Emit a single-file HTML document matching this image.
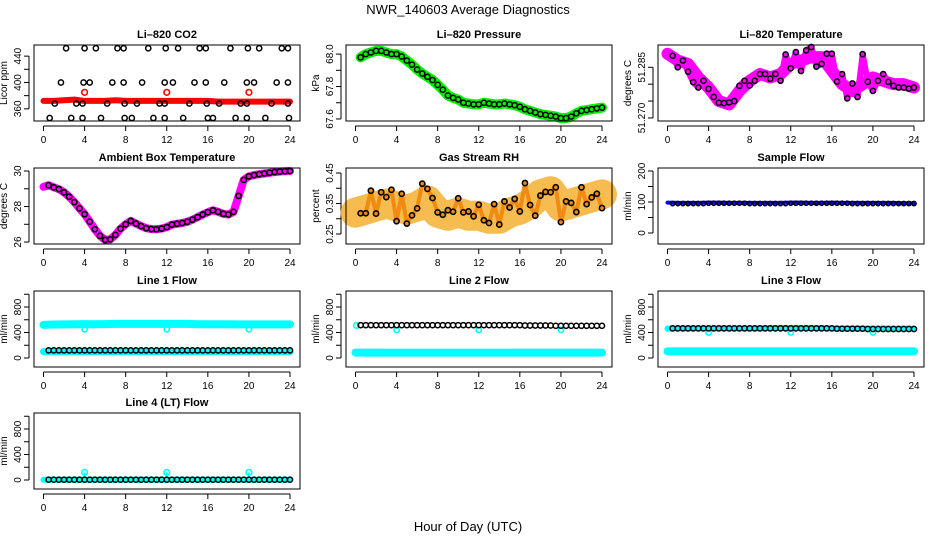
<!DOCTYPE html>
<html><head><meta charset="utf-8"><title>NWR_140603 Average Diagnostics</title>
<style>
html,body{margin:0;padding:0;background:#fff;}
svg{display:block;font-family:"Liberation Sans",Arial,sans-serif;}
</style></head>
<body>
<svg id="chart" width="936" height="540" viewBox="0 0 936 540" xmlns="http://www.w3.org/2000/svg">
<text x="468" y="14" text-anchor="middle" font-size="13">NWR_140603  Average Diagnostics</text>
<text x="468" y="531" text-anchor="middle" font-size="13">Hour of Day (UTC)</text>
</svg>
<script>
const hours = [0.5,1,1.5,2,2.5,3,3.5,4,4.5,5,5.5,6,6.5,7,7.5,8,8.5,9,9.5,10,10.5,11,11.5,12,12.5,13,13.5,14,14.5,15,15.5,16,16.5,17,17.5,18,18.5,19,19.5,20,20.5,21,21.5,22,22.5,23,23.5,24];
const hourly = [0,1,2,3,4,5,6,7,8,9,10,11,12,13,14,15,16,17,18,19,20,21,22,23,24];
const xTicks = [0,4,8,12,16,20,24];

// CO2
const co2TopHours = [2.2,4.0,5.1,7.2,7.8,10.2,11.9,13.1,15.2,15.8,18.2,19.9,21.0,23.2,23.8];
const co2HighHours = [1.7,3.9,4.5,6.7,7.8,9.6,11.8,12.6,14.7,15.8,17.6,19.8,20.5,22.7,23.8];
const co2MidHours = [1.1,3.2,3.8,6.2,7.9,9.1,11.3,11.8,14.2,15.9,17.1,19.2,19.8,22.2,23.8];
const co2LowHours = [0.6,2.7,3.8,5.6,7.9,8.6,10.7,11.8,13.6,16.0,16.5,18.7,19.8,21.6,23.9];
const co2Levels = [452,400,368,346];
const co2Red = [372,372,373,374,372,372,372,373,372,372,372,372,372,372,372,372,372,371,371,371,371,371,371,371,371];
const co2RedSpikeHours = [4,12,20];
const co2RedSpikeVals = [385,385,385];

const pressure = [67.98,68.0,68.01,68.02,68.02,68.01,68.0,68.0,67.985,67.96,67.935,67.905,67.88,67.86,67.84,67.81,67.78,67.745,67.73,67.72,67.70,67.695,67.69,67.69,67.70,67.695,67.69,67.69,67.695,67.69,67.685,67.675,67.66,67.65,67.64,67.63,67.625,67.62,67.615,67.605,67.605,67.615,67.635,67.65,67.655,67.66,67.665,67.67];

const liTemp = [51.2884,51.285,51.287,51.2837,51.2806,51.279,51.281,51.2786,51.2762,51.2745,51.2744,51.2746,51.275,51.2795,51.281,51.2796,51.281,51.283,51.283,51.2816,51.283,51.281,51.2888,51.2847,51.2895,51.2839,51.29,51.291,51.2852,51.286,51.289,51.289,51.2808,51.283,51.2758,51.2802,51.2762,51.2889,51.2807,51.278,51.281,51.283,51.2807,51.2795,51.279,51.279,51.2787,51.279];
const liTempBand = [51.289,51.287,51.286,51.282,51.279,51.275,51.274,51.278,51.281,51.283,51.282,51.283,51.286,51.287,51.288,51.288,51.284,51.280,51.278,51.280,51.282,51.281,51.280,51.280,51.279];

const ambient = [29.2,29.08,28.98,28.8,28.55,28.25,27.9,27.57,27.15,26.72,26.35,26.12,26.15,26.4,26.75,27.0,27.19,27.04,26.9,26.78,26.73,26.72,26.76,26.84,26.98,27.03,27.07,27.14,27.26,27.4,27.55,27.68,27.79,27.7,27.59,27.55,27.7,28.6,29.5,29.7,29.77,29.82,29.86,29.9,29.94,29.97,29.99,30.0];
const ambientStart = [29.11];

const rh = [0.318,0.318,0.392,0.317,0.387,0.371,0.395,0.292,0.382,0.284,0.311,0.334,0.415,0.398,0.368,0.321,0.313,0.328,0.323,0.367,0.321,0.324,0.308,0.346,0.295,0.286,0.348,0.281,0.357,0.337,0.365,0.324,0.417,0.345,0.31,0.376,0.388,0.387,0.403,0.289,0.357,0.352,0.322,0.403,0.348,0.37,0.382,0.335];
const rhBand = [0.32,0.33,0.34,0.35,0.34,0.33,0.34,0.36,0.32,0.31,0.32,0.31,0.31,0.30,0.30,0.32,0.33,0.35,0.38,0.39,0.34,0.35,0.36,0.37,0.38];

const sampleFlow = [95,95,95,95,95,95,95,96,96,96,96,96,96,96,96,95,95,95,95,95,95,95,95,96,96,96,96,96,96,96,96,96,96,96,96,95,95,95,95,95,95,95,95,95,95,95,95,95];
const sampleBand = [98,97,97,97,98,98,97,97,97,97,97,97,98,98,97,97,98,97,97,97,97,97,97,96,96];

const line1Black = [120,120,120,120,120,120,120,120,120,120,120,120,120,120,120,120,120,120,120,120,120,120,120,120,120,120,120,120,120,120,120,120,120,120,120,120,120,120,120,120,120,120,120,120,120,120,120,120];
const line1Upper = [520,525,528,530,532,530,532,535,535,535,535,535,535,535,535,530,530,530,530,528,528,528,528,528,528];
const line1Lower = [100];
const line1DipVals = [450,450,450];
const line2Black = [515,515,515,515,515,515,515,515,515,515,515,515,515,515,515,515,515,515,515,515,515,515,515,515,515,515,515,515,515,515,515,515,510,510,510,510,510,510,505,505,505,505,505,505,505,505,505,505];
const line2Upper = [510];
const line2Lower = [85,85,85,85,85,85,85,85,85,85,85,85,85,85,85,85,85,85,85,85,85,85,85,85,85];
const line2DipVals = [440,440,440];
const line3Black = [465,465,465,465,465,465,465,465,465,465,465,465,465,465,465,465,465,465,465,465,465,465,465,465,465,465,465,465,465,465,465,465,460,460,460,460,460,460,455,455,455,455,455,455,455,455,455,455];
const line3Upper = [460,465,465,465,465,465,465,465,465,465,470,470,470,470,470,470,460,460,460,460,460,460,460,460,460];
const line3Lower = [105,105,105,105,105,105,105,105,105,105,105,105,105,105,105,105,105,105,105,105,105,105,105,105,105];
const line3DipVals = [400,400,400];
const line4Black = [5,5,5,5,5,5,5,5,5,5,5,5,5,5,5,5,5,5,5,5,5,5,5,5,5,5,5,5,5,5,5,5,5,5,5,5,5,5,5,5,5,5,5,5,5,5,5,5];
const line4Cyan = [5,5,5,5,5,5,5,5,5,5,5,5,5,5,5,5,5,5,5,5,5,5,5,5,5];
const line4SpikeVals = [120,120,120];
const spikeHours = [4,12,20];

const NS = 'http://www.w3.org/2000/svg';
const svg = document.getElementById('chart');
function mk(tag, attrs, parent){
  const e = document.createElementNS(NS, tag);
  for (const k in attrs) e.setAttribute(k, attrs[k]);
  (parent||svg).appendChild(e);
  return e;
}
const colL = [34,346,658], rowT = [45,168,291,413], W = 266, H = 76;

function panel(c, r, name, title, ylab, ymin, ymax, ticks, labels){
  const L = colL[c], T = rowT[r];
  const g = mk('g', {});
  
  
  const xs = h => L + 9.5 + h * (246.5/24);
  const ys = v => T + H - (v - ymin) / (ymax - ymin) * H;
  const t = mk('text', {x: L + W/2, y: T - 7, 'text-anchor':'middle', 'font-size':'11', 'font-weight':'bold'}, g);
  t.textContent = title;
  
  
  const yl = mk('text', {x: L - 27, y: T + H/2, 'text-anchor':'middle', 'font-size':'10', transform:`rotate(-90 ${L-27} ${T+H/2})`}, g);
  yl.textContent = ylab;
  
  
  const xa = mk('g', {}, g);
  
  
  mk('line', {x1: xs(0), x2: xs(24), y1: T+H+5, y2: T+H+5, stroke:'#000'}, xa);
  xTicks.forEach(v => {
    mk('line', {x1: xs(v), x2: xs(v), y1: T+H+5, y2: T+H+10, stroke:'#000'}, xa);
    const tl = mk('text', {x: xs(v), y: T+H+22, 'text-anchor':'middle', 'font-size':'10'}, xa);
    tl.textContent = v;
  });
  const ya = mk('g', {}, g);
  
  
  mk('line', {x1: L-5, x2: L-5, y1: ys(ticks[0]), y2: ys(ticks[ticks.length-1]), stroke:'#000'}, ya);
  ticks.forEach((v, i) => {
    mk('line', {x1: L-10, x2: L-5, y1: ys(v), y2: ys(v), stroke:'#000'}, ya);
    if (labels[i] !== '') {
      const yy = ys(v);
      const tl = mk('text', {x: L-13, y: yy, 'text-anchor':'middle', 'font-size':'10', transform:`rotate(-90 ${L-13} ${yy})`}, ya);
      tl.textContent = labels[i];
    }
  });
  const plot = mk('g', {}, g);
  
  
  const box = mk('rect', {x: L, y: T, width: W, height: H, fill:'none', stroke:'#000'}, g);
  
  
  return {xs, ys, plot, name};
}
function band(p, hs, vals, color, width, op){
  const pts = vals.map((v,i) => p.xs(hs[i]) + ',' + p.ys(v)).join(' ');
  const pl = mk('polyline', {points: pts, fill:'none', stroke: color, 'stroke-width': width, 'stroke-linejoin':'round', 'stroke-linecap':'round', 'stroke-opacity': op||1}, p.plot);
  
  
}
function pts(p, hs, vals, color, r, sw){
  vals.forEach((v,i) => {
    const c = mk('circle', {cx: p.xs(hs[i]), cy: p.ys(v), r: r||3, fill:'none', stroke: color, 'stroke-width': sw||1.6}, p.plot);
    
    
  });
}

let p = panel(0,0,'co2','Li\u2013820 CO2','Licor ppm',341.5,456.9,[360,380,400,420,440],['360','','400','','440']);
band(p, hourly, co2Red, '#ff0000', 6);
pts(p, co2RedSpikeHours, co2RedSpikeVals, '#ff0000', 2.8, 1.6);
pts(p, co2TopHours, co2TopHours.map(()=>co2Levels[0]), '#000', 2.6, 1.5);
pts(p, co2HighHours, co2HighHours.map(()=>co2Levels[1]), '#000', 2.6, 1.5);
pts(p, co2MidHours, co2MidHours.map(()=>co2Levels[2]), '#000', 2.6, 1.5);
pts(p, co2LowHours, co2LowHours.map(()=>co2Levels[3]), '#000', 2.6, 1.5);

p = panel(1,0,'pressure','Li\u2013820 Pressure','kPa',67.5875,68.056,[67.6,67.7,67.8,67.9,68.0],['67.6','','67.8','','68.0']);
band(p, hours, pressure, '#00ee00', 10);
pts(p, hours, pressure, '#000', 2.6, 1.5);

p = panel(2,0,'li-temp','Li\u2013820 Temperature','degrees C',51.2691,51.2916,[51.270,51.275,51.280,51.285],['51.270','','','51.285']);
band(p, hourly, liTempBand, '#ff00ff', 12);
band(p, hours, liTemp, '#ff00ff', 6);
pts(p, hours, liTemp, '#000', 2.6, 1.5);

p = panel(0,1,'ambient-temp','Ambient Box Temperature','degrees C',25.89,30.17,[26,27,28,29,30],['26','','28','','30']);
band(p, [0].concat(hours), ambientStart.concat(ambient), '#ff00ff', 8);
pts(p, hours, ambient, '#000', 2.6, 1.6);

p = panel(1,1,'gas-rh','Gas Stream RH','percent',0.2172,0.4664,[0.25,0.30,0.35,0.40,0.45],['0.25','','0.35','','0.45']);
band(p, hourly, rhBand, '#f5b030', 30, 0.85);
band(p, hours, rh, '#f08a10', 4);
pts(p, hours, rh, '#000', 2.6, 1.6);

p = panel(2,1,'sample-flow','Sample Flow','ml/min',-35.5,209.7,[0,50,100,150,200],['0','','100','','200']);
band(p, hourly, sampleBand, '#0000ff', 4);
pts(p, hours, sampleFlow, '#000', 2.2, 1.4);

const fTicks = [0,200,400,600,800,1000], fLabels = ['0','','400','','800',''];
p = panel(0,2,'line1-flow','Line 1 Flow','ml/min',-141,1051,fTicks,fLabels);
band(p, hourly, line1Upper, '#00ffff', 8);
band(p, [0,24], [line1Lower[0], line1Lower[0]], '#00ffff', 7);
pts(p, spikeHours, line1DipVals, '#00ffff', 2.6, 1.6);
pts(p, hours, line1Black, '#000', 2.6, 1.5);

p = panel(1,2,'line2-flow','Line 2 Flow','ml/min',-141,1051,fTicks,fLabels);
band(p, hourly, line2Lower, '#00ffff', 8);
pts(p, [0.1], line2Upper, '#00ffff', 2.8, 1.6);
pts(p, spikeHours, line2DipVals, '#00ffff', 2.6, 1.6);
pts(p, hours, line2Black, '#000', 2.6, 1.5);

p = panel(2,2,'line3-flow','Line 3 Flow','ml/min',-141,1051,fTicks,fLabels);
band(p, hourly, line3Upper, '#00ffff', 6);
band(p, hourly, line3Lower, '#00ffff', 8);
pts(p, spikeHours, line3DipVals, '#00ffff', 2.6, 1.6);
pts(p, hours, line3Black, '#000', 2.6, 1.5);

p = panel(0,3,'line4-flow','Line 4 (LT) Flow','ml/min',-141,1051,fTicks,fLabels);
band(p, hourly, line4Cyan, '#00ffff', 6);
spikeHours.forEach((h,i) => {
  const l = mk('line', {x1: p.xs(h), x2: p.xs(h), y1: p.ys(line4Cyan[0]), y2: p.ys(line4SpikeVals[i]), stroke:'#00ffff', 'stroke-width':1.5}, p.plot);
  
  
});
pts(p, spikeHours, line4SpikeVals, '#00ffff', 2.8, 1.6);
pts(p, hours, line4Black, '#000', 2.6, 1.5);
</script>
</body></html>
